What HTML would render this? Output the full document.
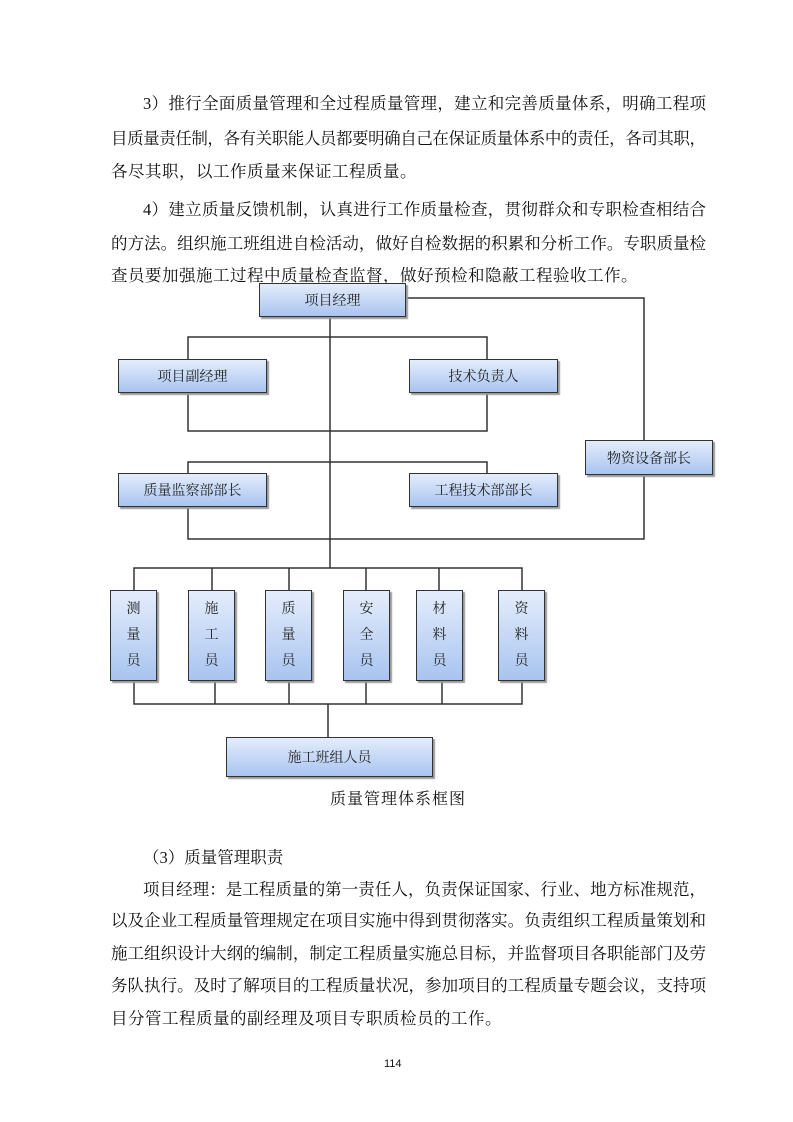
<!DOCTYPE html>
<html><head><meta charset="utf-8">
<style>
body{margin:0;background:#fff;}
.pg{position:relative;width:793px;height:1122px;overflow:hidden;font-family:"Liberation Serif","Noto Serif CJK SC","Noto Sans CJK SC",serif;color:#111;}
.l{position:absolute;left:111px;font-size:16.5px;line-height:24px;white-space:nowrap;}
.b{position:absolute;box-sizing:border-box;border:1.5px solid #333;background:linear-gradient(#e4edfc,#a9c4f0);box-shadow:2px 2px 1px #999;font-size:14px;color:#222;display:flex;align-items:center;justify-content:center;}
.v{flex-direction:column;line-height:26px;justify-content:flex-start;padding-top:6px;}
</style></head><body><div class="pg">
<div class="l j" data-w="563" style="top:92px;left:143px">3）推行全面质量管理和全过程质量管理，建立和完善质量体系，明确工程项</div>
<div class="l j" data-w="595" style="top:127px">目质量责任制，各有关职能人员都要明确自己在保证质量体系中的责任，各司其职，</div>
<div class="l" style="top:160px;letter-spacing:0.5px">各尽其职，以工作质量来保证工程质量。</div>
<div class="l j" data-w="563" style="top:198px;left:143px">4）建立质量反馈机制，认真进行工作质量检查，贯彻群众和专职检查相结合</div>
<div class="l j" data-w="595" style="top:232px">的方法。组织施工班组进自检活动，做好自检数据的积累和分析工作。专职质量检</div>
<div class="l" style="top:264px;letter-spacing:0.5px">查员要加强施工过程中质量检查监督，做好预检和隐蔽工程验收工作。</div>

<svg style="position:absolute;left:0;top:0" width="793" height="1122">
<g stroke="#333" stroke-width="1.5" fill="none">
<polyline points="405,298 644,298 644,441"/>
<line x1="330" y1="316" x2="330" y2="540"/>
<polyline points="188,362 188,337 487,337 487,362"/>
<polyline points="188,392 188,431 487,431 487,392"/>
<polyline points="188,474 188,462 487,462 487,474"/>
<polyline points="188,506 188,539 644,539 644,474"/>
<line x1="330" y1="539" x2="330" y2="568"/>
<polyline points="134,590 134,568 522,568 522,590"/>
<line x1="212" y1="568" x2="212" y2="590"/><line x1="289" y1="568" x2="289" y2="590"/>
<line x1="366" y1="568" x2="366" y2="590"/><line x1="439" y1="568" x2="439" y2="590"/>
<polyline points="134,681 134,704 522,704 522,681"/>
<line x1="215" y1="681" x2="215" y2="704"/><line x1="289" y1="681" x2="289" y2="704"/>
<line x1="366" y1="681" x2="366" y2="704"/><line x1="442" y1="681" x2="442" y2="704"/>
<line x1="328" y1="704" x2="328" y2="737"/>
</g></svg>

<div class="b" style="left:259px;top:283px;width:147px;height:34px">项目经理</div>
<div class="b" style="left:118px;top:359px;width:149px;height:34px">项目副经理</div>
<div class="b" style="left:409px;top:359px;width:149px;height:34px">技术负责人</div>
<div class="b" style="left:585px;top:440px;width:128px;height:35px">物资设备部长</div>
<div class="b" style="left:118px;top:473px;width:149px;height:34px">质量监察部部长</div>
<div class="b" style="left:409px;top:473px;width:149px;height:34px">工程技术部部长</div>
<div class="b v" style="left:110px;top:590px;width:47px;height:91px">测<br>量<br>员</div>
<div class="b v" style="left:188px;top:590px;width:47px;height:91px">施<br>工<br>员</div>
<div class="b v" style="left:265px;top:590px;width:47px;height:91px">质<br>量<br>员</div>
<div class="b v" style="left:343px;top:590px;width:47px;height:91px">安<br>全<br>员</div>
<div class="b v" style="left:416px;top:590px;width:47px;height:91px">材<br>料<br>员</div>
<div class="b v" style="left:498px;top:590px;width:47px;height:91px">资<br>料<br>员</div>
<div class="b" style="left:226px;top:737px;width:207px;height:40px">施工班组人员</div>
<div class="l" style="top:788px;left:330px;font-size:16px;letter-spacing:1px">质量管理体系框图</div>

<div class="l" style="top:846px;left:143px">（3）质量管理职责</div>
<div class="l j" data-w="563" style="top:878px;left:143px">项目经理：是工程质量的第一责任人，负责保证国家、行业、地方标准规范，</div>
<div class="l j" data-w="595" style="top:909px">以及企业工程质量管理规定在项目实施中得到贯彻落实。负责组织工程质量策划和</div>
<div class="l j" data-w="595" style="top:942px">施工组织设计大纲的编制，制定工程质量实施总目标，并监督项目各职能部门及劳</div>
<div class="l j" data-w="595" style="top:974px">务队执行。及时了解项目的工程质量状况，参加项目的工程质量专题会议，支持项</div>
<div class="l" style="top:1007px;letter-spacing:0.5px">目分管工程质量的副经理及项目专职质检员的工作。</div>
<div class="l" style="top:1052px;left:384px;font-size:11px;font-family:'Liberation Sans',sans-serif">114</div>
</div>
<script>
document.querySelectorAll('.j').forEach(function(e){
  var t=+e.getAttribute('data-w');
  var n=e.textContent.length;
  var w=e.getBoundingClientRect().width;
  var ls=(t-w)/(n-1);
  e.style.letterSpacing=ls+'px';
});
</script>
</body></html>
